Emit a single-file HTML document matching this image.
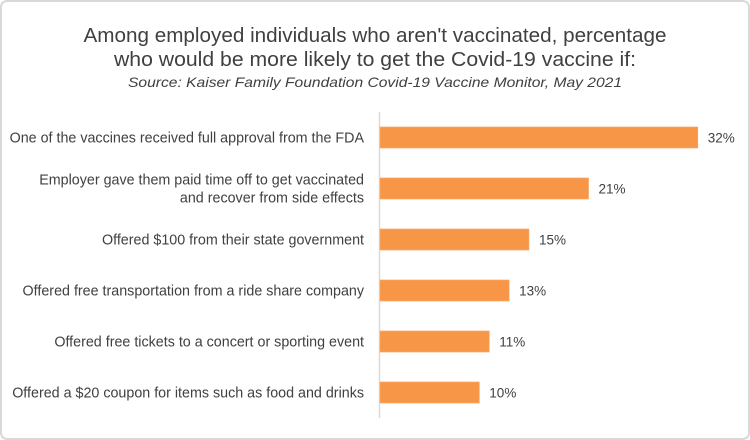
<!DOCTYPE html>
<html><head><meta charset="utf-8"><style>
body{margin:0;background:#fff;}
svg{display:block;font-family:"Liberation Sans",sans-serif;}
</style></head><body>
<svg width="750" height="440" viewBox="0 0 750 440">
<rect x="1" y="1" width="748" height="438" rx="6" fill="#fff" stroke="#d9d9d9" stroke-width="2"/>
<text x="375" y="42" text-anchor="middle" font-size="20" fill="#404040" textLength="583" lengthAdjust="spacingAndGlyphs">Among employed individuals who aren't vaccinated, percentage</text>
<text x="375" y="66" text-anchor="middle" font-size="20" fill="#404040" textLength="522" lengthAdjust="spacingAndGlyphs">who would be more likely to get the Covid-19 vaccine if:</text>
<text x="375" y="87" text-anchor="middle" font-size="14" font-style="italic" fill="#404040" textLength="494" lengthAdjust="spacingAndGlyphs">Source: Kaiser Family Foundation Covid-19 Vaccine Monitor, May 2021</text>
<line x1="379.5" y1="112" x2="379.5" y2="418" stroke="#d9d9d9" stroke-width="1.5"/>
<g id="bars"></g>
</svg>
<script>
const categories=[["One of the vaccines received full approval from the FDA"],["Employer gave them paid time off to get vaccinated","and recover from side effects"],["Offered $100 from their state government"],["Offered free transportation from a ride share company"],["Offered free tickets to a concert or sporting event"],["Offered a $20 coupon for items such as food and drinks"]];
const values=[32,21,15,13,11,10];
const valueLabels=["32%","21%","15%","13%","11%","10%"];
const NS="http://www.w3.org/2000/svg";
const g=document.getElementById("bars");
const x0=380, scale=9.93;
function xPos(v){return x0+v*scale;}
function yCenter(i){return 137.5+i*51;}
values.forEach((v,i)=>{
  const cy=yCenter(i);
  const r=document.createElementNS(NS,"rect");
  r.setAttribute("x",x0);r.setAttribute("y",cy-10.5);
  r.setAttribute("width",xPos(v)-x0);r.setAttribute("height",21);
  r.setAttribute("fill","#f79646");r.setAttribute("stroke","#f8a86a");r.setAttribute("stroke-width","0.7");
  
  
  g.appendChild(r);
  const t=document.createElementNS(NS,"text");
  t.setAttribute("x",xPos(v)+10);t.setAttribute("y",cy+5);
  t.setAttribute("font-size","13.5");t.setAttribute("fill","#404040");
  t.textContent=valueLabels[i];
  
  
  g.appendChild(t);
  const lines=categories[i];
  lines.forEach((ln,j)=>{
    const c=document.createElementNS(NS,"text");
    const off=(j-(lines.length-1)/2)*18;
    c.setAttribute("x",364);c.setAttribute("y",cy+5+off);
    c.setAttribute("text-anchor","end");c.setAttribute("font-size","14.3");c.setAttribute("fill","#404040");
    c.textContent=ln;
    
    
    g.appendChild(c);
  });
});
</script>
</body></html>
